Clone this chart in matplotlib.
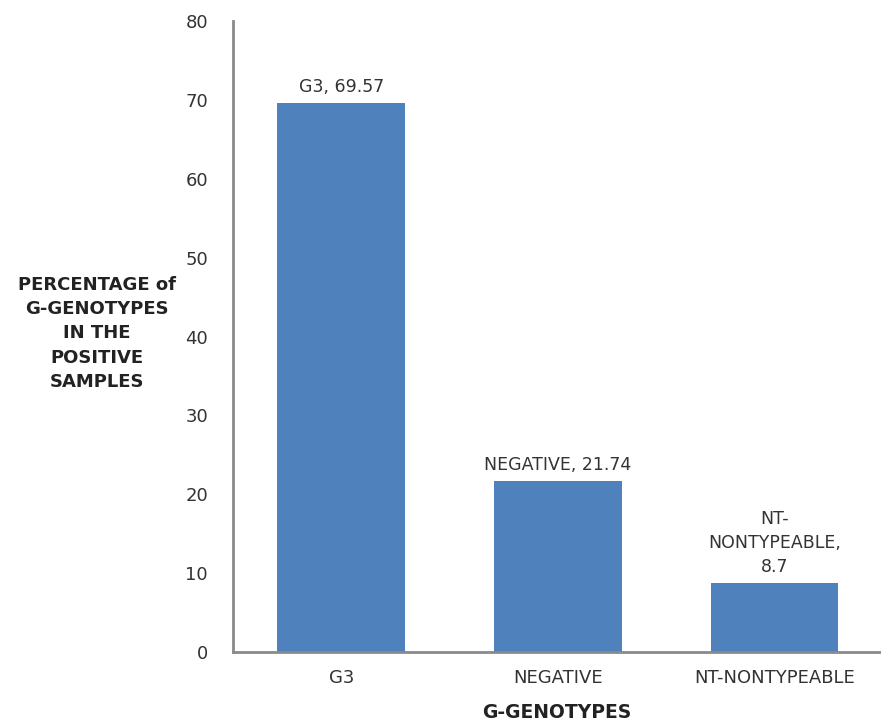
import matplotlib.pyplot as plt

# G-genotype distribution among positive samples
categories = ["G3", "NEGATIVE", "NT-NONTYPEABLE"]
percentages = [69.57, 21.74, 8.7]
bar_labels = ["G3, 69.57", "NEGATIVE, 21.74", "NT-\nNONTYPEABLE,\n8.7"]
y_ticks = [0, 10, 20, 30, 40, 50, 60, 70, 80]

plt.rcParams['font.family'] = ['DejaVu Sans']

fig = plt.figure(figsize=(8.81, 7.25), dpi=100)
ax = fig.add_axes([0.2645, 0.1007, 0.735, 0.8703])

x = range(len(categories))
bars = ax.bar(x, percentages, width=0.59, color="#4F81BD", zorder=2)

for rect, lab in zip(bars, bar_labels):
    ax.annotate(lab, xy=(rect.get_x() + rect.get_width() / 2, rect.get_height()),
                xytext=(0, 5), textcoords="offset points",
                ha="center", va="bottom", fontsize=12.5, color="#333333",
                linespacing=1.45)

ax.set_xlim(-0.5, 2.49)
ax.set_ylim(0, 80)
ax.set_yticks(y_ticks)
ax.set_xticks(list(x))
ax.set_xticklabels(categories)
ax.tick_params(axis="both", length=0, labelsize=13, colors="#333333")
ax.tick_params(axis="y", pad=18)
ax.tick_params(axis="x", pad=12)

for side in ["top", "right"]:
    ax.spines[side].set_visible(False)
for side in ["left", "bottom"]:
    ax.spines[side].set_color("#8a8a8a")
    ax.spines[side].set_linewidth(2)

ax.set_xlabel("G-GENOTYPES", fontsize=13.5, fontweight="bold", color="#222222", labelpad=12)
fig.text(0.11, 0.54, "PERCENTAGE of\nG-GENOTYPES\nIN THE\nPOSITIVE\nSAMPLES",
         ha="center", va="center", fontsize=13, fontweight="bold", color="#222222",
         linespacing=1.45)

fig.savefig("out.png", dpi=100)
